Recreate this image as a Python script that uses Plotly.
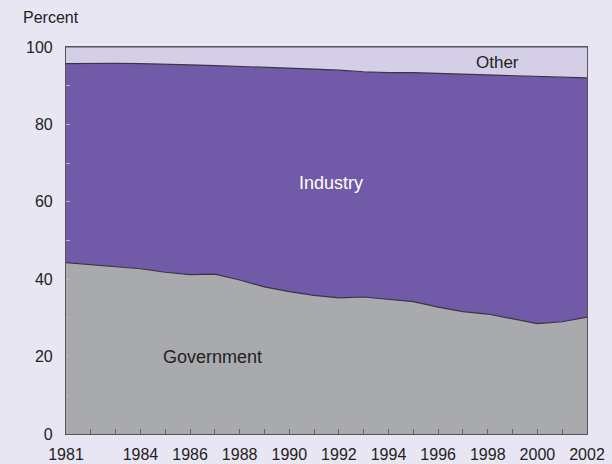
import plotly.graph_objects as go

years = list(range(1981, 2003))
government = [44.3, 43.8, 43.3, 42.7, 41.8, 41.2, 41.3, 39.8, 38.0, 36.8, 35.8,
              35.2, 35.4, 34.8, 34.2, 32.8, 31.6, 31.0, 29.8, 28.5, 29.0, 30.2]
gov_plus_industry = [95.7, 95.8, 95.8, 95.7, 95.6, 95.4, 95.2, 95.0, 94.7, 94.5, 94.3,
                     94.0, 93.6, 93.4, 93.4, 93.2, 93.0, 92.8, 92.6, 92.4, 92.2, 92.0]
industry = [round(t - g, 2) for t, g in zip(gov_plus_industry, government)]
other = [round(100 - t, 2) for t in gov_plus_industry]

x_tick_years = [1981, 1984, 1986, 1988, 1990, 1992, 1994, 1996, 1998, 2000, 2002]
y_ticks = [0, 20, 40, 60, 80, 100]

font_family = "Liberation Sans, Arial, Helvetica, sans-serif"

fig = go.Figure()
fig.add_trace(go.Scatter(x=years, y=government, stackgroup="one", mode="lines",
                         line=dict(color="#3a3545", width=1.2), fillcolor="#a9aaae",
                         name="Government", hoverinfo="skip"))
fig.add_trace(go.Scatter(x=years, y=industry, stackgroup="one", mode="lines",
                         line=dict(color="#3a3545", width=1.2), fillcolor="#715aa8",
                         name="Industry", hoverinfo="skip"))
fig.add_trace(go.Scatter(x=years, y=other, stackgroup="one", mode="lines",
                         line=dict(color="#555", width=1), fillcolor="#d4cfe6",
                         name="Other", hoverinfo="skip"))

fig.update_layout(
    width=612, height=464,
    margin=dict(l=66, r=25, t=47, b=30, autoexpand=False),
    paper_bgcolor="#e8e6f2", plot_bgcolor="#e8e6f2",
    showlegend=False,
    font=dict(family=font_family, size=16, color="#222"),
    xaxis=dict(range=[1981, 2002], tickvals=x_tick_years,
               ticktext=[str(y) for y in x_tick_years],
               ticks="inside", ticklen=5, tickcolor="#666",
               minor=dict(dtick=1, tick0=1981, ticks="inside", ticklen=5, tickcolor="#666"),
               showgrid=False, zeroline=False, automargin=False,
               showline=True, linecolor="#555", linewidth=1.2, mirror=True,
               ticklabelstandoff=6,
               tickfont=dict(size=16)),
    yaxis=dict(range=[0, 100], tickvals=y_ticks,
               ticks="inside", ticklen=4, tickcolor="#b8b4cc",
               minor=dict(dtick=10, tick0=0, ticks="inside", ticklen=4, tickcolor="#b8b4cc"),
               showgrid=False, zeroline=False, automargin=False,
               showline=True, linecolor="#555", linewidth=1.2, mirror=True,
               ticklabelstandoff=9,
               tickfont=dict(size=16)),
    annotations=[
        dict(text="Percent", xref="paper", yref="paper", x=-0.087, y=1.077,
             xanchor="left", yanchor="middle", showarrow=False, font=dict(size=16)),
        dict(text="Industry", x=1991.7, y=64.8, showarrow=False,
             font=dict(size=18, color="white")),
        dict(text="Government", x=1986.9, y=20, showarrow=False,
             font=dict(size=18, color="#222")),
        dict(text="Other", x=1998.4, y=95.9, showarrow=False,
             font=dict(size=17, color="#222")),
    ],
)

fig.write_html(
    "out.html",
    config={"displayModeBar": False},
    post_script="document.body.style.margin='0';document.body.style.background='#e8e6f2';",
)
